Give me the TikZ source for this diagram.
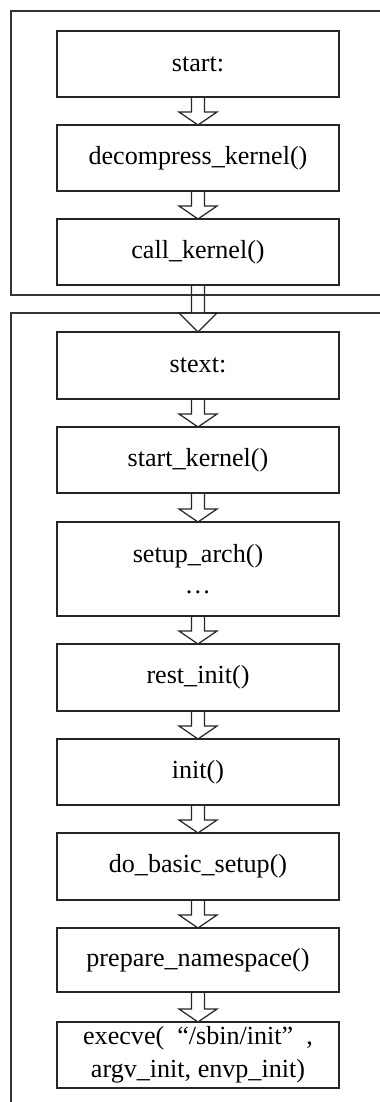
\documentclass[tikz,border=0pt]{standalone}
\usepackage{fontspec}
\setmainfont{Liberation Serif}
\usetikzlibrary{calc}
\tikzset{
  stepbox/.style={rectangle,draw=black!85,line width=0.9pt,minimum width=56.4mm,
    minimum height=13.2mm,inner sep=0pt,outer sep=0pt,align=center,
    font=\fontsize{14.85}{17.5}\selectfont},
  frame/.style={draw=black!80,line width=0.7pt},
  hollow/.style={draw=black!85,line width=0.7pt,line join=miter},
  every picture/.style={line cap=butt}
}
% hollow block arrow from the bottom of one box to the top of the next
\newcommand{\hollowarrow}[3][13]{%
  \draw[hollow] ($(#2.south)+(-6.5,0)$) -- ($(#3.north)+(-6.5,-#1)$)
    -- ($(#3.north)+(-19,-#1)$) -- (#3.north) -- ($(#3.north)+(19,-#1)$)
    -- ($(#3.north)+(6.5,-#1)$) -- ($(#2.south)+(6.5,0)$);}

\begin{document}
\begin{tikzpicture}[x=0.2mm,y=-0.2mm]
  \useasboundingbox (0,0) rectangle (380,1102);
  % frames
  \draw[frame] (380,11) -- (11,11) -- (11,295) -- (380,295);
  \draw[frame] (380,313) -- (11,313) -- (11,1102);
  % boxes
  \node[stepbox] (start) at (198,64) {start:};
  \node[stepbox] (decomp) at (198,158) {decompress\_kernel()};
  \node[stepbox] (callk) at (198,252) {call\_kernel()};
  \node[stepbox,minimum height=13.4mm] (stext) at (198,365.5) {stext:};
  \node[stepbox] (startk) at (198,460) {start\_kernel()};
  \node[stepbox,minimum height=18.8mm] (setup) at (198,569) {setup\_arch()\\…};
  \node[stepbox,minimum height=13.4mm] (rest) at (198,677.5) {rest\_init()};
  \node[stepbox] (init) at (198,772) {init()};
  \node[stepbox,minimum height=13.4mm] (basic) at (198,866.5) {do\_basic\_setup()};
  \node[stepbox,minimum height=12.8mm] (prep) at (198,960) {prepare\_namespace()};
  \node[stepbox,font=\fontsize{14.85}{18.5}\selectfont] (exec) at (198,1055)
    {execve(\hspace{0.5em}“/sbin/init”\hspace{0.5em},\\argv\_init, envp\_init)};
  % arrows
  \hollowarrow{start}{decomp}
  \hollowarrow{decomp}{callk}
  \hollowarrow[19]{callk}{stext}
  \hollowarrow{stext}{startk}
  \hollowarrow{startk}{setup}
  \hollowarrow{setup}{rest}
  \hollowarrow{rest}{init}
  \hollowarrow{init}{basic}
  \hollowarrow{basic}{prep}
  \hollowarrow{prep}{exec}
\end{tikzpicture}
\end{document}
